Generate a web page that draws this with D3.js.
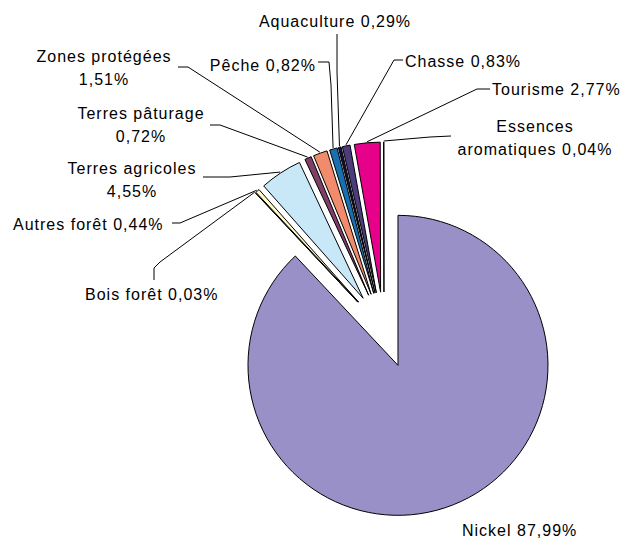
<!DOCTYPE html>
<html>
<head>
<meta charset="utf-8">
<script src="https://cdn.jsdelivr.net/npm/d3@7"></script>
<style>
body { margin: 0; background: #fff; }
text { font-family: "Liberation Sans", Arial, sans-serif; font-size: 16px; letter-spacing: 1px; fill: #000; }
</style>
</head>
<body>
<div></div>
<script>
// Données (en %)
var categories = ['Nickel', 'Bois forêt', 'Autres forêt', 'Terres agricoles', 'Terres pâturage',
    'Zones protégées', 'Pêche', 'Aquaculture', 'Chasse', 'Tourisme', 'Essences aromatiques'];
var values = [87.99, 0.03, 0.44, 4.55, 0.72, 1.51, 0.82, 0.29, 0.83, 2.77, 0.04];
var labels = [
    ['Nickel 87,99%'],
    ['Bois forêt 0,03%'],
    ['Autres forêt 0,44%'],
    ['Terres agricoles', '4,55%'],
    ['Terres pâturage', '0,72%'],
    ['Zones protégées', '1,51%'],
    ['Pêche 0,82%'],
    ['Aquaculture 0,29%'],
    ['Chasse 0,83%'],
    ['Tourisme 2,77%'],
    ['Essences', 'aromatiques 0,04%']
];
var colors = ['#9990c8', '#e6dca8', '#fffacc', '#c8e8f8', '#7f3f66', '#f08c6c',
    '#1a6fb0', '#101040', '#4c3c7c', '#e6008a', '#ffffff'];

// Placement des étiquettes (x, ligne de base, ancrage, coudes du trait de rappel)
var labelPos = [
    { x: 462, y: 536, anchor: 'start', knees: [] },
    { x: 85, y: 300, anchor: 'start', knees: [[154, 280], [154, 268], [160, 262]] },
    { x: 13, y: 230, anchor: 'start', knees: [[172, 223], [180, 223]] },
    { x: 132, y: 174, anchor: 'middle', knees: [[203, 177], [230, 177]] },
    { x: 141, y: 119, anchor: 'middle', knees: [[210, 125], [220, 125]] },
    { x: 104, y: 62, anchor: 'middle', knees: [[178, 67], [188, 67]] },
    { x: 316, y: 71, anchor: 'end', knees: [[318, 62], [329, 62], [331, 85]] },
    { x: 335, y: 27, anchor: 'middle', knees: [[337, 34], [337, 72]] },
    { x: 405, y: 67, anchor: 'start', knees: [[403, 60], [394, 60]] },
    { x: 492, y: 95, anchor: 'start', knees: [[490, 89], [477, 89]] },
    { x: 535, y: 132, anchor: 'middle', knees: [[451, 136], [430, 137]] }
];

var width = 627;
var height = 538;
var cx = 384;
var cy = 330;
var radius = 150;
var explode = 38;

var svg = d3.select('div')
    .append('svg')
    .attr('width', width)
    .attr('height', height)
    .style('display', 'block');

var input = categories.map(function(c, i) {
    return { name: c, value: values[i], color: colors[i], label: labels[i], pos: labelPos[i] };
});

var pie = d3.pie()
    .sort(null)
    .value(function(d) { return d.value; });

var arc = d3.arc()
    .innerRadius(0)
    .outerRadius(radius);

var arcs = pie(input);

// décalage de chaque part le long de sa bissectrice
function offset(d) {
    var a = (d.startAngle + d.endAngle) / 2;
    return [cx + explode * Math.sin(a), cy - explode * Math.cos(a)];
}

var g = svg.append('g');

g.selectAll('path')
    .data(arcs)
    .enter()
    .append('path')
    .attr('d', arc)
    .attr('fill', function(d) { return d.data.color; })
    .attr('stroke', '#000')
    .attr('stroke-width', 1)
    .attr('stroke-linejoin', 'miter')
    .attr('transform', function(d) {
        var o = offset(d);
        return 'translate(' + o[0] + ',' + o[1] + ')';
    });

// Traits de rappel
var line = d3.line();
svg.selectAll('.leader')
    .data(arcs.filter(function(d) { return d.data.pos.knees.length > 0; }))
    .enter()
    .append('path')
    .attr('class', 'leader')
    .attr('fill', 'none')
    .attr('stroke', '#000')
    .attr('stroke-width', 1)
    .attr('d', function(d) {
        var o = offset(d);
        var a = (d.startAngle + d.endAngle) / 2;
        var end = [o[0] + (radius + 1) * Math.sin(a), o[1] - (radius + 1) * Math.cos(a)];
        return line(d.data.pos.knees.concat([end]));
    });

// Etiquettes
var text = svg.selectAll('.lbl')
    .data(arcs)
    .enter()
    .append('text')
    .attr('class', 'lbl')
    .attr('text-anchor', function(d) { return d.data.pos.anchor; });

text.selectAll('tspan')
    .data(function(d) {
        return d.data.label.map(function(t, i) { return { t: t, x: d.data.pos.x, y: d.data.pos.y + i * 23 }; });
    })
    .enter()
    .append('tspan')
    .attr('x', function(d) { return d.x; })
    .attr('y', function(d) { return d.y; })
    .text(function(d) { return d.t; });
</script>
</body>
</html>
